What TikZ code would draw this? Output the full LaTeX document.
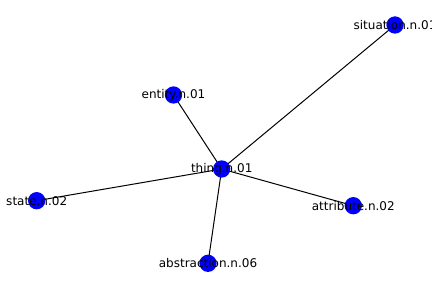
\documentclass[tikz,border=0pt]{standalone}
\usepackage{fontspec}
\setmainfont{DejaVu Sans}
\usetikzlibrary{backgrounds}
\definecolor{nodeblue}{RGB}{0,0,255}
\begin{document}
\begin{tikzpicture}[x=1pt,y=-1pt,
  vertex/.style={circle,fill=nodeblue,draw=none,minimum size=17.3pt,inner sep=0pt},
  vlabel/.style={font=\fontsize{12}{14}\selectfont,text=black,inner sep=0pt},
  edge/.style={draw=black,line width=1pt}]
  \useasboundingbox (0,0) rectangle (432,288);
  % vertices
  \node[vertex] (thing) at (221.7,169) {};
  \node[vertex] (entity) at (173.5,95) {};
  \node[vertex] (situation) at (395,25) {};
  \node[vertex] (state) at (36.7,200.7) {};
  \node[vertex] (attribute) at (353.3,205.7) {};
  \node[vertex] (abstraction) at (208,263.3) {};
  % edges behind the vertices
  \begin{scope}[on background layer]
    \foreach \n in {entity,situation,state,attribute,abstraction}
      \draw[edge] (thing.center) -- (\n.center);
  \end{scope}
  % labels over the vertices
  \node[vlabel] at (thing.center) {thing.n.01};
  \node[vlabel] at (entity.center) {entity.n.01};
  \node[vlabel] at (situation.center) {situation.n.01};
  \node[vlabel] at (state.center) {state.n.02};
  \node[vlabel] at (attribute.center) {attribute.n.02};
  \node[vlabel] at (abstraction.center) {abstraction.n.06};
\end{tikzpicture}
\end{document}
